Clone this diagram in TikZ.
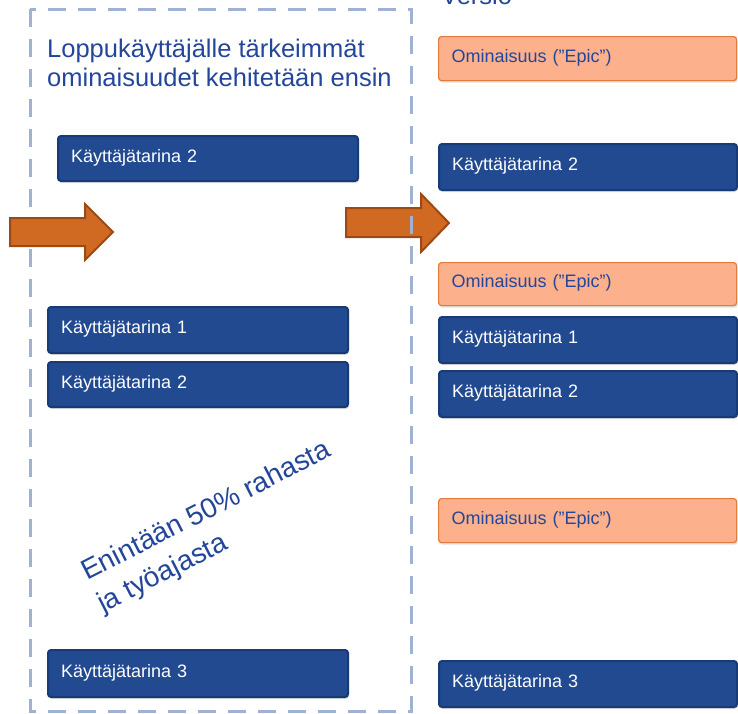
\documentclass[tikz,border=0pt]{standalone}
\usepackage{fontspec}
\setmainfont{Liberation Sans}
\usetikzlibrary{shadows}
\definecolor{dashblue}{HTML}{A0B2D4}
\definecolor{txtblue}{HTML}{23469A}
\definecolor{storyfill}{HTML}{214A91}
\definecolor{storyborder}{HTML}{183A75}
\definecolor{epicfill}{HTML}{FCB08C}
\definecolor{epicborder}{HTML}{E27A3C}
\definecolor{arrowfill}{HTML}{D06A22}
\definecolor{arrowborder}{HTML}{9C4A14}
\tikzset{
  boxbase/.style={anchor=north west, rounded corners=3pt, inner xsep=13pt, align=left,
    font=\fontsize{18}{20}\selectfont, text depth=6pt,
    drop shadow={opacity=0.25, shadow xshift=1pt, shadow yshift=-2pt}},
  story/.style={boxbase, draw=storyborder, fill=storyfill, line width=2pt, text=white},
  epic/.style={boxbase, draw=epicborder, fill=epicfill, line width=1.2pt, text=txtblue},
  bigtext/.style={text=txtblue, font=\fontsize{25.5}{29}\selectfont, inner sep=0pt},
  slanttext/.style={bigtext, font=\fontsize{28}{32}\selectfont, anchor=base west, rotate=27},
  blockarrow/.style={fill=arrowfill, draw=arrowborder, line width=2pt, line join=miter},
}
\begin{document}
\begin{tikzpicture}[x=1pt,y=-1pt]
\useasboundingbox (0,0) rectangle (738,713);
% right block arrow lies under the frame
\draw[blockarrow] (346,208) -- (421,208) -- (421,194) -- (449,223) -- (421,252) -- (421,237) -- (346,237) -- cycle;
% dashed frame
\draw[dashblue, line width=3pt, dash pattern=on 18pt off 12pt] (30,9) rectangle (411,711);
% left block arrow lies over the frame
\draw[blockarrow] (10,218) -- (85,218) -- (85,204) -- (113,232) -- (85,260) -- (85,246) -- (10,246) -- cycle;
% titles
\node[bigtext, anchor=base west] (versio) at (441,4) {Versio};
\node[bigtext, anchor=north west, align=left] (title) at (47,39) {Loppukäyttäjälle tärkeimmät\\ominaisuudet kehitetään ensin};
% left column
\node[story, minimum width=300pt, minimum height=45pt, text width=274pt] (l2a) at (57,135) {Käyttäjätarina 2};
\node[story, minimum width=300pt, minimum height=46pt, text width=274pt] (l1) at (47,306) {Käyttäjätarina 1};
\node[story, minimum width=300pt, minimum height=45pt, text width=274pt] (l2b) at (47,361) {Käyttäjätarina 2};
\node[story, minimum width=300pt, minimum height=47pt, text width=274pt] (l3) at (47,649) {Käyttäjätarina 3};
% rotated text
\node[slanttext] (en1) at (87,581) {Enintään 50\% rahasta};
\node[slanttext] (en2) at (103,613) {ja työajasta};
% right column
\node[epic, minimum width=298pt, minimum height=44pt, text width=272pt] (e1) at (438,36) {Ominaisuus (”Epic”)};
\node[story, minimum width=298pt, minimum height=46pt, text width=272pt] (r2a) at (438,143) {Käyttäjätarina 2};
\node[epic, minimum width=298pt, minimum height=43pt, text width=272pt] (e2) at (438,262) {Ominaisuus (”Epic”)};
\node[story, minimum width=298pt, minimum height=46pt, text width=272pt] (r1) at (438,316) {Käyttäjätarina 1};
\node[story, minimum width=298pt, minimum height=46pt, text width=272pt] (r2b) at (438,370) {Käyttäjätarina 2};
\node[epic, minimum width=298pt, minimum height=44pt, text width=272pt] (e3) at (438,498) {Ominaisuus (”Epic”)};
\node[story, minimum width=298pt, minimum height=46pt, text width=272pt] (r3) at (438,660) {Käyttäjätarina 3};
\end{tikzpicture}
\end{document}
